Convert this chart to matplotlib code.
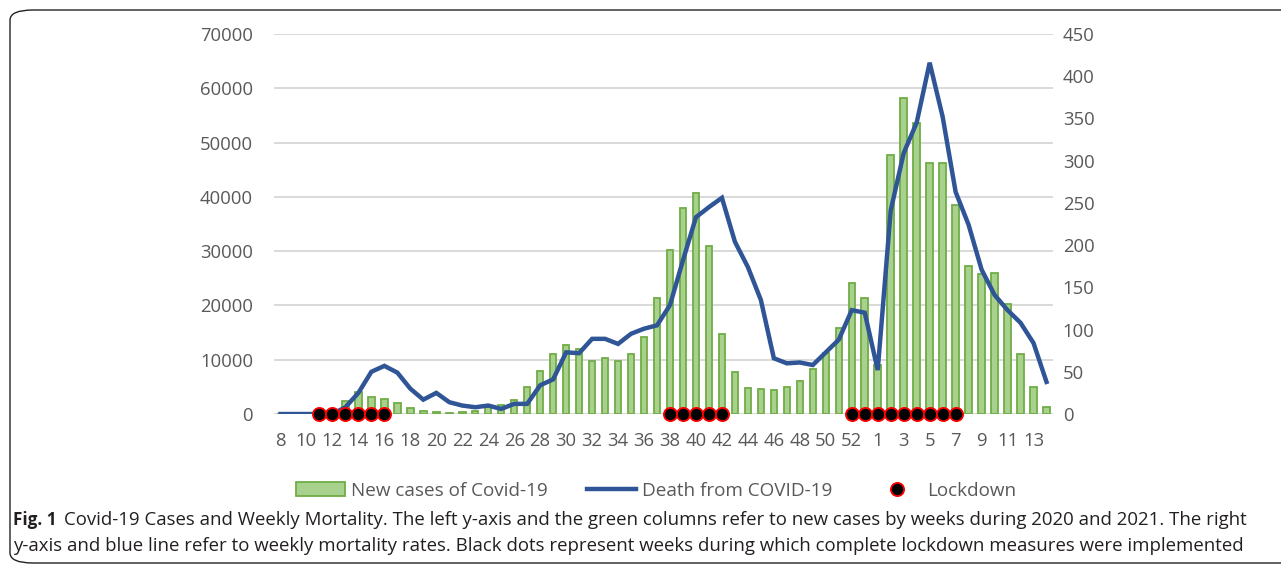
import numpy as np
import matplotlib
matplotlib.use("Agg")
import matplotlib.pyplot as plt
from matplotlib.patches import FancyBboxPatch, Patch
from matplotlib.lines import Line2D

plt.rcParams['font.family'] = ['Open Sans', 'DejaVu Sans']

# ---------------- data ----------------
weeks = [str(w) for w in range(8, 54)] + [str(w) for w in range(1, 15)]
new_cases = [0, 0, 0, 100, 500, 2400, 4000, 3100, 2700, 2000,
             1100, 500, 300, 200, 300, 600, 1200, 1700, 2500, 5000,
             8000, 11000, 12800, 12000, 9700, 10300, 9800, 11100, 14200, 21400,
             30200, 38000, 40700, 31000, 14800, 7800, 4800, 4600, 4500, 5000,
             6000, 8200, 11200, 15800, 24100, 21400,
             9000, 47700, 58200, 53600, 46200, 46200, 38500, 27300, 25800, 26000,
             20300, 11100, 5000, 1300]
deaths = [0, 0, 0, 0, 0, 8, 25, 50, 57, 49,
          30, 17, 25, 14, 10, 8, 10, 6, 12, 12,
          34, 41, 73, 72, 89, 89, 83, 95, 101, 105,
          129, 182, 233, 245, 256, 204, 174, 135, 66, 60,
          61, 58, 73, 88, 123, 120,
          52, 241, 309, 345, 416, 352, 263, 224, 171, 141,
          123, 108, 84, 38]
lockdown_weeks = ["11", "12", "13", "14", "15", "16",
                  "38", "39", "40", "41", "42",
                  "52", "53", "1", "2", "3", "4", "5", "6", "7"]
left_ticks = [0, 10000, 20000, 30000, 40000, 50000, 60000, 70000]
right_ticks = [0, 50, 100, 150, 200, 250, 300, 350, 400, 450]
legend_labels = ["New cases of Covid-19", "Death from COVID-19", "Lockdown"]
caption_bold = "Fig. 1"
caption_line1 = ("Covid-19 Cases and Weekly Mortality. The left y-axis and the green columns "
                 "refer to new cases by weeks during 2020 and 2021. The right")
caption_line2 = ("y-axis and blue line refer to weekly mortality rates. Black dots represent "
                 "weeks during which complete lockdown measures were implemented")

# lockdown indices (weeks 1..7 refer to 2021)
lock_idx = []
for w in lockdown_weeks:
    idxs = [i for i, lab in enumerate(weeks) if lab == w]
    if w in ("1", "2", "3", "4", "5", "6", "7"):
        lock_idx.append(idxs[-1])
    else:
        lock_idx.append(idxs[0])

W, H = 1281, 565
fig = plt.figure(figsize=(W / 100, H / 100), dpi=100)

# rounded border
border = FancyBboxPatch((10 / W, 1 - 563 / H), 1400 / W, (563 - 10) / H,
                        boxstyle="round,pad=0,rounding_size=0.018",
                        transform=fig.transFigure, fill=False,
                        edgecolor='#222222', linewidth=1.0, clip_on=False)
fig.patches.append(border)

ax = fig.add_axes([274 / W, 1 - 414 / H, 779 / W, 380 / H])
x = np.arange(len(weeks))
ax.bar(x, new_cases, width=0.5, color='#A9D18E', edgecolor='#70AD47',
       linewidth=1.3, zorder=2)
ax.set_xlim(-0.5, len(weeks) - 0.5)
ax.set_ylim(0, 70000)
ax.set_yticks(left_ticks)
ax.set_yticklabels([str(t) for t in left_ticks])
ax.grid(axis='y', color='#D9D9D9', linewidth=1.4, zorder=0)
ax.set_axisbelow(True)
ax.set_xticks(x[::2])
ax.set_xticklabels(weeks[::2])
for s in ax.spines.values():
    s.set_visible(False)
ax.tick_params(axis='both', length=0, colors='#595959', labelsize=13.3)
ax.tick_params(axis='y', pad=15)
ax.tick_params(axis='x', pad=13)

ax2 = ax.twinx()
ax2.plot(x, deaths, color='#2F5597', linewidth=3.2, solid_joinstyle='miter', zorder=3)
ax2.plot(lock_idx, [0] * len(lock_idx), 'o', markerfacecolor='black',
         markeredgecolor='red', markersize=9.5, markeredgewidth=1.3,
         clip_on=False, zorder=5, linestyle='none')
ax2.set_ylim(0, 450)
ax2.set_yticks(right_ticks)
ax2.set_yticklabels([str(t) for t in right_ticks])
for s in ax2.spines.values():
    s.set_visible(False)
ax2.tick_params(axis='y', length=0, colors='#595959', labelsize=13.3, pad=7)

handles = [Patch(facecolor='#A9D18E', edgecolor='#70AD47', linewidth=1.3),
           Line2D([], [], color='#2F5597', linewidth=3.2),
           Line2D([], [], marker='o', linestyle='none', markerfacecolor='black',
                  markeredgecolor='red', markersize=9.5, markeredgewidth=1.3)]
leg = fig.legend(handles, legend_labels, loc='center', ncol=3,
                 bbox_to_anchor=(656 / W, 1 - 491 / H), frameon=False,
                 fontsize=13.6, handlelength=2.6, handleheight=0.75,
                 handletextpad=0.3, columnspacing=2.1)
for t in leg.get_texts():
    t.set_color('#595959')

# caption
fig.canvas.draw()
r = fig.canvas.get_renderer()
cap_fs = 12.3
tb = fig.text(13 / W, 1 - 520 / H, caption_bold, fontsize=cap_fs, fontweight='bold',
              va='center', ha='left', color='#231F20')
wb = tb.get_window_extent(r).width
x1 = 13 + wb + 8
t1 = fig.text(x1 / W, 1 - 520 / H, caption_line1, fontsize=12, va='center',
              ha='left', color='#231F20')
t2 = fig.text(13 / W, 1 - 546 / H, caption_line2, fontsize=12, va='center',
              ha='left', color='#231F20')
w1 = t1.get_window_extent(r).width
t1.set_fontsize(12 * (1243 - x1) / w1)
w2 = t2.get_window_extent(r).width
t2.set_fontsize(12 * (1233 - 13) / w2)

fig.savefig("out.png", dpi=100)
